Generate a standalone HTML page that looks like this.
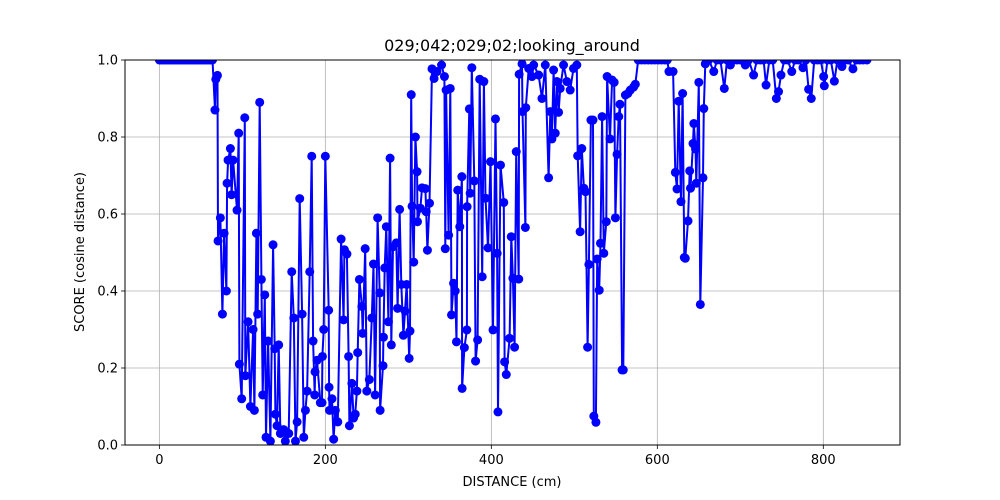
<!DOCTYPE html>
<html><head><meta charset="utf-8"><style>
body{margin:0;background:#fff;}
svg{display:block;font-family:"DejaVu Sans","Liberation Sans",sans-serif;}
</style></head><body>
<svg id="chart" width="1000" height="500" xmlns="http://www.w3.org/2000/svg">
<defs><clipPath id="plotclip"><rect x="125" y="60" width="775" height="385"/></clipPath></defs>
<rect x="0" y="0" width="1000" height="500" fill="#fff"/>
<g id="grid"></g>
<g id="series" clip-path="url(#plotclip)"></g>
<rect x="125" y="60" width="775" height="385" fill="none" stroke="#000" stroke-width="1"/>
<g id="ticks"></g>
<text x="512" y="51" text-anchor="middle" font-size="16">029;042;029;02;looking_around</text>
<text x="512" y="486" text-anchor="middle" font-size="13">DISTANCE (cm)</text>
<text transform="translate(84,252) rotate(-90)" text-anchor="middle" font-size="13">SCORE (cosine distance)</text>
</svg>
<script>
const distances = [0,2,4,6,8,10,12,14,16,18,20,22,24,26,28,30,32,34,36,38,40,42,44,46,48,50,52,54,56,58,60,62,64,
67,68,70,70.7,73.5,76,78,80.8,81.6,82.8,85.6,87,88.8,93.6,95.6,96.4,99.2,102.9,103.6,106.9,109.7,112.9,114.5,116.9,118.5,120.9,122.9,124.5,127,128.5,131,133.8,137,139,139.8,141.8,143.8,145.8,149.8,151.8,155.9,159.5,162,164,166,169.1,172,174,176,178,181.2,183.6,185.2,187.2,187.6,190,194,
196,196.5,198,200,204,204.5,205,208,210,212,215,219,222,223,226,228,229,232,234,236,238,239,241,244,245,248,250,253,256,258,260,263,265.5,266,269.5,270,271.5,273.5,276,278,279.5,281.5,285.5,287,289.5,291.5,294,296,298,301,302,303.5,304.5,306.5,308.5,310.5,311,314.5,316.5,320.5,321.5,323,325.5,328.5,331,334.5,340,343.5,344.5,345.5,348.5,350.5,352,354.5,356.5,358,359.5,362,364.5,364.8,367.5,370.5,370.8,373.5,374.5,376.5,379.5,381,383.5,386,389,391,393,396,399,402,405,407,408,411,
415,416,418,422,424,426,428,430,433,433.5,437,437.5,441,441.5,445,449,451,457,461,465,469,471,473,475,477,479,481,483,487,491,495,499,503,504,507,509,511.5,513.5,516,517.5,520,522.5,523.5,526,527.5,530,531.5,533.5,535.5,538.5,539.5,543,545.5,548,549.5,551.5,553.5,555,557.5,559,561.5,564.5,567.5,571.5,573.5,577,581,585,589,593,597,601,605,609,612,614,
619,621.7,623.7,625.7,628.5,630.5,632.5,633.7,637,639,640,643,644,646,647,650,651.8,655,656,657.8,662,668,672,676,680.7,684,688,692,696,700,706,710,716,720,724,728,731,735,739,743.4,746,749,753,757,762,766,770,775.5,779,782.3,785.5,789,793,797,800.4,801.2,805,809,813.3,817,822.5,826,830,835.7,840,844,848,852.6];
const scores = [1,1,1,1,1,1,1,1,1,1,1,1,1,1,1,1,1,1,1,1,1,1,1,1,1,1,1,1,1,1,1,1,1,
0.87,0.95,0.96,0.53,0.59,0.34,0.55,0.40,0.68,0.74,0.77,0.65,0.74,0.61,0.81,0.21,0.12,0.85,0.18,0.32,0.10,0.30,0.09,0.55,0.34,0.89,0.43,0.13,0.39,0.02,0.27,0.01,0.52,0.25,0.08,0.05,0.26,0.03,0.04,0.01,0.03,0.45,0.33,0.01,0.06,0.64,0.34,0.02,0.09,0.14,0.45,0.75,0.27,0.13,0.19,0.22,0.11,
0.11,0.23,0.30,0.75,0.35,0.15,0.09,0.12,0.015,0.09,0.06,0.535,0.325,0.507,0.496,0.23,0.05,0.16,0.07,0.08,0.14,0.24,0.43,0.36,0.29,0.51,0.14,0.17,0.33,0.47,0.13,0.59,0.395,0.09,0.206,0.28,0.46,0.567,0.32,0.745,0.26,0.515,0.525,0.355,0.612,0.417,0.285,0.348,0.417,0.225,0.296,0.91,0.62,0.475,0.80,0.71,0.58,0.615,0.668,0.666,0.606,0.506,0.628,0.977,0.952,0.97,0.987,0.957,0.51,0.922,0.545,0.926,0.338,0.42,0.40,0.268,0.662,0.567,0.697,0.147,0.253,0.299,0.619,0.873,0.654,0.98,0.686,0.218,0.273,0.95,0.437,0.944,0.641,0.512,0.736,0.299,0.847,0.498,0.086,0.727,
0.63,0.216,0.183,0.277,0.541,0.433,0.254,0.762,0.431,0.963,0.99,0.866,0.565,0.876,0.978,0.957,0.987,0.961,0.90,0.987,0.694,0.866,0.795,0.974,0.81,0.944,0.864,0.926,0.987,0.944,0.922,0.978,0.987,0.751,0.554,0.77,0.667,0.658,0.254,0.469,0.844,0.844,0.075,0.059,0.483,0.402,0.524,0.853,0.498,0.58,0.957,0.795,0.948,0.942,0.59,0.755,0.853,0.885,0.195,0.195,0.909,0.913,0.922,0.93,0.937,1,1,1,1,1,1,1,1,1,1,0.97,
0.97,0.708,0.665,0.893,0.632,0.913,0.487,0.485,0.582,0.712,0.667,0.783,0.835,0.769,0.68,0.942,0.365,0.694,0.874,0.99,1,0.97,1,1,0.926,1,0.987,1,1,1,0.987,1,0.961,1,1,1,0.935,1,1,0.90,0.918,0.961,1,1,0.97,1,1,0.98,1,0.924,0.90,1,1,1,0.957,0.933,1,1,0.945,1,0.983,1,1,0.977,1,1,1,1];
const xTicks = [0,200,400,600,800];
const yTicks = [0.0,0.2,0.4,0.6,0.8,1.0];
const yTickLabels = ["0.0","0.2","0.4","0.6","0.8","1.0"];

const NS="http://www.w3.org/2000/svg";
const X0=125,X1=900,Y0=445,Y1=60;
const xMin=-41.4,xMax=892.4;
function xs(d){return X0+(d-xMin)/(xMax-xMin)*(X1-X0);}
function ys(v){return Y0-v*(Y0-Y1);}
function mk(tag,attrs,parent){const e=document.createElementNS(NS,tag);for(const k in attrs)e.setAttribute(k,attrs[k]);parent.appendChild(e);return e;}
const grid=document.getElementById('grid'),ticks=document.getElementById('ticks'),series=document.getElementById('series');
xTicks.forEach(t=>{
  const x=xs(t);
  const g=mk('line',{x1:x,x2:x,y1:Y1,y2:Y0,stroke:'#b0b0b0','stroke-width':0.8},grid);
  
  
  const tk=mk('line',{x1:x,x2:x,y1:Y0,y2:Y0+4,stroke:'#000','stroke-width':0.8},ticks);
  
  
  const lb=mk('text',{x:x,y:Y0+19,'text-anchor':'middle','font-size':13},ticks);
  lb.textContent=String(t);
  
  
});
yTicks.forEach((t,i)=>{
  const y=ys(t);
  const g=mk('line',{x1:X0,x2:X1,y1:y,y2:y,stroke:'#b0b0b0','stroke-width':0.8},grid);
  
  
  const tk=mk('line',{x1:X0-4,x2:X0,y1:y,y2:y,stroke:'#000','stroke-width':0.8},ticks);
  
  
  const lb=mk('text',{x:X0-7,y:y+4.5,'text-anchor':'end','font-size':13},ticks);
  lb.textContent=yTickLabels[i];
  
  
});
const pts=distances.map((d,i)=>xs(d).toFixed(1)+','+ys(scores[i]).toFixed(1)).join(' ');
const line=mk('polyline',{points:pts,fill:'none',stroke:'#0000ff','stroke-width':2,'stroke-linejoin':'round'},series);


distances.forEach((d,i)=>{
  const c=mk('circle',{cx:xs(d),cy:ys(scores[i]),r:4.5,fill:'#0000ff'},series);
  
  
});
</script>
</body></html>
